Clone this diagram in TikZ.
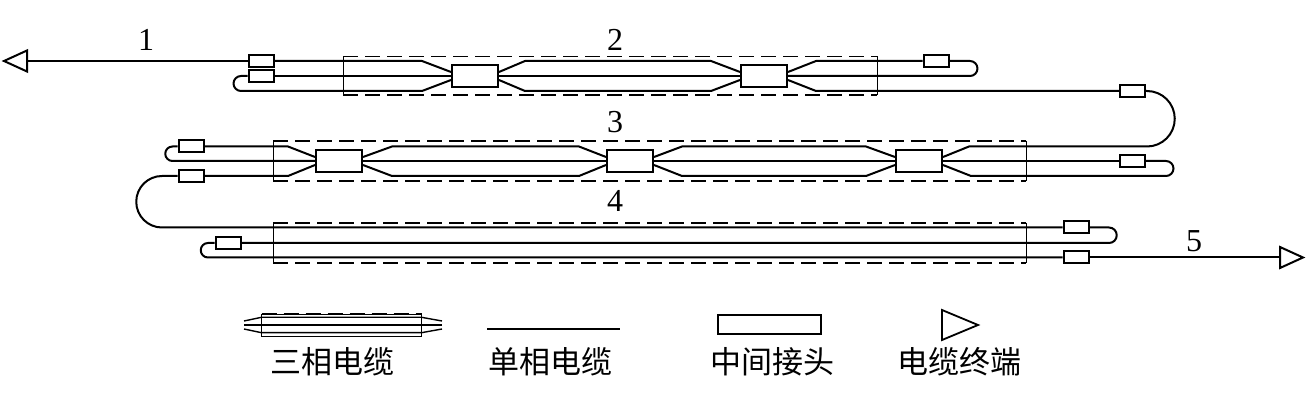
\documentclass[tikz,border=0pt]{standalone}
\usepackage{fontspec}
\setmainfont{Liberation Serif}
\newfontfamily\cjk{Noto Sans CJK SC}
\usetikzlibrary{shapes.geometric}
\tikzset{
  cable/.style={line width=1pt,line join=round},
  lug/.style={draw,line width=1pt,fill=white,inner sep=0pt,minimum width=12.5pt,minimum height=6pt},
  joint/.style={draw,line width=1pt,fill=white,inner sep=0pt,minimum width=23pt,minimum height=11pt},
  sheathdash/.style={line width=0.7pt,dash pattern=on 7.5pt off 3.5pt},
  sheathside/.style={line width=0.45pt},
  terminal/.style={draw,line width=1pt,outer sep=0pt,isosceles triangle,isosceles triangle stretches,inner sep=0pt,minimum width=10.5pt,minimum height=11.5pt},
  numlabel/.style={font=\fontsize{16}{16}\selectfont},
  legendlabel/.style={font=\cjk\fontsize{15.5}{15.5}\selectfont}
}
\begin{document}
\begin{tikzpicture}[x=0.5pt,y=-0.5pt]
  \useasboundingbox (0,0) rectangle (1310,400);
  \foreach \xa/\ya/\xb/\yb in {343/56.5/877/95,273/141/1026/181,273/223/1026/263}{
    \draw[sheathdash] (\xa,\ya) -- (\xb,\ya);
    \draw[sheathdash] (\xa,\yb) -- (\xb,\yb);
    \draw[sheathside] (\xa,\ya) -- (\xa,\yb);
    \draw[sheathside] (\xb,\ya) -- (\xb,\yb);
  }
  \node[terminal,shape border rotate=180,anchor=apex] (termA) at (4,61) {};
  \node[terminal,anchor=apex] (termB) at (1303,257.5) {};
  \node[lug] (lugA) at (261,61) {};
  \node[lug] (lugB) at (261,76) {};
  \node[lug] (lugC) at (936,61) {};
  \node[lug] (lugD) at (1132.5,91) {};
  \node[lug] (lugE) at (191,146.5) {};
  \node[lug] (lugF) at (191,176) {};
  \node[lug] (lugG) at (1132.5,161) {};
  \node[lug] (lugH) at (228,243) {};
  \node[lug] (lugI) at (1076,227.5) {};
  \node[lug] (lugJ) at (1076,257.5) {};
  \node[joint] (jointA) at (475,76) {};
  \node[joint] (jointB) at (764,76) {};
  \node[joint] (jointC) at (339,161) {};
  \node[joint] (jointD) at (630,161) {};
  \node[joint] (jointE) at (919,161) {};

  \draw[cable] (termA.lower side) -- (lugA);
  \draw[cable] (lugA) -- (422,61) -- ([yshift=2pt]jointA.west);
  \draw[cable] (lugB) -- (jointA);
  \draw[cable] (lugB.west) -- (241,76) arc[start angle=-90,end angle=-270,radius=7.5] -- (422,91) -- ([yshift=-2pt]jointA.west);
  \draw[cable] ([yshift=2pt]jointB.east) -- (816,61) -- (lugC);
  \draw[cable] (lugC.east) -- (970,61) arc[start angle=-90,end angle=90,radius=7.5] -- (jointB.east);
  \draw[cable] ([yshift=-2pt]jointB.east) -- (816,91) -- (lugD);
  \draw[cable] (lugD.east) -- (1147,91) arc[start angle=-90,end angle=90,radius=27.75] -- (969,146.5) -- ([yshift=2pt]jointE.east);
  \draw[cable] (jointE) -- (lugG);
  \draw[cable] (lugG.east) -- (1166,161) arc[start angle=-90,end angle=90,radius=7.5] -- (971,176) -- ([yshift=-2pt]jointE.east);
  \foreach \ja/\jb/\xa/\xb/\yt/\yb in {jointA/jointB/525/711/61/91,jointC/jointD/392/579/146.5/176,jointD/jointE/682/866/146.5/176}{
    \draw[cable] ([yshift=2pt]\ja.east) -- (\xa,\yt) -- (\xb,\yt) -- ([yshift=2pt]\jb.west);
    \draw[cable] (\ja) -- (\jb);
    \draw[cable] ([yshift=-2pt]\ja.east) -- (\xa,\yb) -- (\xb,\yb) -- ([yshift=-2pt]\jb.west);
  }
  \draw[cable] (lugE) -- (288,146.5) -- ([yshift=2pt]jointC.west);
  \draw[cable] (lugE.west) -- (172.5,146.5) arc[start angle=-90,end angle=-270,radius=7.25] -- (jointC.west);
  \draw[cable] (lugF) -- (288,176) -- ([yshift=-2pt]jointC.west);
  \draw[cable] (lugF.west) -- (162,176) arc[start angle=-90,end angle=-270,radius=25.75] -- (lugI.west);
  \draw[cable] (lugI.east) -- (1109,227.5) arc[start angle=-90,end angle=90,radius=7.75] -- (lugH.east);
  \draw[cable] (lugH.west) -- (208,243) arc[start angle=-90,end angle=-270,radius=7.25] -- (lugJ.west);
  \draw[cable] (lugJ) -- (termB.lower side);

  \node[numlabel] (numA) at (146,40) {1};
  \node[numlabel] (numB) at (615,40) {2};
  \node[numlabel] (numC) at (615,122) {3};
  \node[numlabel] (numD) at (615,201) {4};
  \node[numlabel] (numE) at (1194,241) {5};

  \draw[sheathdash] (261.5,314) -- (421.5,314);
  \draw[sheathdash] (261.5,336.5) -- (421.5,336.5);
  \draw[sheathside] (261.5,314) rectangle (421.5,336.5);
  \draw[sheathside,line width=0.7pt] (244,321) -- (261.5,317.3) -- (421.5,317.3) -- (442,321);
  \draw[sheathside,line width=0.7pt] (244,325) -- (442,325);
  \draw[sheathside,line width=0.7pt] (244,329) -- (261.5,332.7) -- (421.5,332.7) -- (442,329);
  \coordinate (singleA) at (487,329);
  \coordinate (singleB) at (620,329);
  \draw[cable,line width=0.8pt] (singleA) -- (singleB);
  \node[joint,minimum width=51.5pt,minimum height=9.5pt] (legendJoint) at (769.5,324.5) {};
  \node[terminal,anchor=apex,minimum width=15pt,minimum height=18pt,line width=0.9pt] (legendTerm) at (978,325) {};
  \node[legendlabel] (legendA) at (332,362) {三相电缆};
  \node[legendlabel] (legendB) at (550,362) {单相电缆};
  \node[legendlabel] (legendC) at (772,362) {中间接头};
  \node[legendlabel] (legendD) at (959,362) {电缆终端};
\end{tikzpicture}
\end{document}
